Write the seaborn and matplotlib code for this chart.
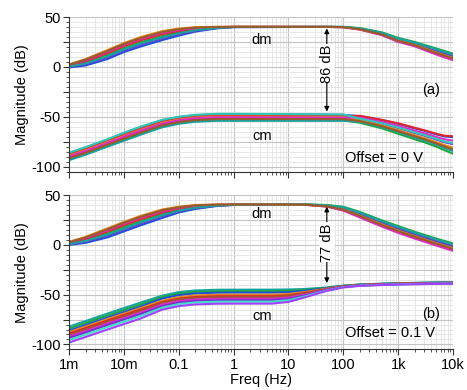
import numpy as np
import pandas as pd
import matplotlib
matplotlib.use("Agg")
import matplotlib.pyplot as plt
import seaborn as sns
from matplotlib.ticker import FixedLocator, NullFormatter, FuncFormatter

# ---------------- data ----------------
# Panel (a): Offset = 0 V
freq_dm_a = [1e-3, 2e-3, 5e-3, 1e-2, 2e-2, 5e-2, 0.1, 0.2, 0.5, 1, 50, 100, 200, 500, 1e3, 2e3, 5e3, 1e4]
dm_a = [
    [-0.5, 1.5, 8.0, 15.0, 20.5, 27.0, 31.5, 35.5, 38.8, 40.0, 40.2, 40.1, 38.2, 33.4, 27.2, 23.0, 15.5, 10.1],
    [0.1, 2.8, 9.8, 16.8, 22.4, 28.8, 32.9, 36.4, 39.1, 40.1, 40.2, 40.1, 38.5, 34.0, 28.0, 23.8, 16.7, 11.4],
    [0.9, 4.4, 12.0, 19.0, 24.8, 31.0, 34.7, 37.5, 39.5, 40.2, 40.3, 40.2, 39.0, 34.8, 29.2, 25.1, 18.5, 13.4],
    [1.5, 5.7, 13.9, 20.9, 26.7, 32.9, 36.1, 38.4, 39.8, 40.2, 40.2, 40.0, 37.7, 32.4, 25.8, 21.4, 13.3, 7.8],
    [1.9, 6.7, 15.2, 22.2, 28.1, 34.2, 37.2, 39.1, 40.0, 40.3, 40.2, 40.0, 37.5, 32.0, 25.2, 20.8, 12.4, 6.8],
    [2.5, 8.0, 17.0, 24.0, 30.0, 36.0, 38.6, 40.0, 40.3, 40.3, 40.2, 40.1, 38.0, 33.0, 26.6, 22.3, 14.5, 9.1],
    [0.4, 3.5, 10.7, 17.7, 23.4, 29.7, 33.6, 36.9, 39.2, 40.1, 40.2, 40.2, 38.8, 34.4, 28.6, 24.5, 17.6, 12.4],
    [2.2, 7.4, 16.1, 23.1, 29.0, 35.1, 37.9, 39.5, 40.2, 40.3, 40.2, 40.0, 37.9, 32.7, 26.2, 21.9, 13.9, 8.5],
]
freq_cm_a = [1e-3, 2e-3, 5e-3, 1e-2, 2e-2, 5e-2, 0.1, 0.2, 0.5, 1, 10, 100, 200, 500, 1e3, 2e3, 3e3, 5e3, 7e3, 1e4]
cm_a = [
    [-86.4, -80.9, -72.9, -66.4, -60.4, -53.4, -50.4, -48.4, -47.4, -47.4, -47.6, -48.0, -49.4, -53.4, -57.0, -61.6, -64.1, -67.7, -69.7, -70.4],
    [-87.9, -82.4, -74.4, -68.0, -62.0, -54.9, -51.8, -49.8, -48.8, -48.8, -49.0, -49.3, -49.0, -53.0, -56.5, -61.0, -63.5, -67.0, -69.0, -69.5],
    [-92.8, -87.3, -79.3, -73.2, -67.2, -59.8, -56.3, -54.3, -53.3, -53.3, -53.3, -53.4, -56.0, -61.5, -67.0, -72.5, -75.5, -80.0, -83.5, -87.0],
    [-90.5, -85.0, -77.0, -70.8, -64.8, -57.5, -54.2, -52.2, -51.2, -51.2, -51.3, -51.5, -52.2, -56.8, -61.2, -66.2, -68.9, -72.9, -75.5, -77.4],
    [-89.0, -83.5, -75.5, -69.2, -63.2, -56.0, -52.8, -50.8, -49.8, -49.8, -50.0, -50.2, -53.6, -58.5, -63.3, -68.5, -71.3, -75.5, -78.4, -80.9],
    [-93.5, -88.0, -80.0, -74.0, -68.0, -60.5, -57.0, -55.0, -54.0, -54.0, -54.0, -54.0, -55.0, -60.2, -65.4, -70.8, -73.7, -78.0, -81.3, -84.4],
    [-89.8, -84.3, -76.3, -70.0, -64.0, -56.8, -53.5, -51.5, -50.5, -50.5, -50.7, -50.9, -50.8, -55.1, -59.1, -63.9, -66.5, -70.3, -72.6, -73.9],
    [-91.6, -86.1, -78.1, -72.0, -66.0, -58.6, -55.3, -53.3, -52.3, -52.3, -52.3, -52.4, -54.3, -59.4, -64.4, -69.6, -72.5, -76.8, -79.9, -82.6],
    [-86.0, -80.5, -72.5, -66.0, -60.0, -53.0, -50.0, -48.0, -47.0, -47.0, -47.3, -47.7, -51.8, -56.4, -60.7, -65.6, -68.3, -72.2, -74.8, -76.5],
]

# Panel (b): Offset = 0.1 V
freq_dm_b = [1e-3, 2e-3, 5e-3, 1e-2, 2e-2, 5e-2, 0.1, 0.2, 0.5, 1, 10, 20, 50, 100, 200, 500, 1e3, 2e3, 5e3, 1e4]
dm_b = [
    [0.0, 2.0, 7.5, 13.5, 19.5, 27.0, 32.5, 36.0, 39.0, 40.0, 40.4, 40.3, 39.2, 36.3, 30.3, 21.5, 15.4, 9.7, 2.7, -2.3],
    [0.6, 3.2, 9.3, 15.4, 21.4, 28.7, 33.7, 36.8, 39.3, 40.1, 40.4, 40.4, 39.5, 37.0, 31.4, 22.7, 16.8, 11.1, 4.1, -0.8],
    [1.4, 4.7, 11.6, 17.8, 23.8, 30.8, 35.1, 37.8, 39.7, 40.2, 40.5, 40.5, 40.0, 38.2, 33.0, 24.6, 18.8, 13.1, 6.2, 1.4],
    [2.0, 5.9, 13.4, 19.7, 25.7, 32.5, 36.3, 38.6, 40.0, 40.3, 40.3, 40.2, 38.6, 34.9, 28.3, 19.3, 13.0, 7.3, 0.3, -4.9],
    [2.4, 6.8, 14.7, 21.1, 27.1, 33.8, 37.1, 39.2, 40.2, 40.4, 40.3, 40.2, 38.3, 34.3, 27.5, 18.4, 12.0, 6.3, -0.8, -6.0],
    [3.0, 8.0, 16.5, 23.0, 29.0, 35.5, 38.3, 40.0, 40.5, 40.5, 40.4, 40.3, 38.9, 35.7, 29.4, 20.6, 14.4, 8.7, 1.7, -3.4],
    [0.9, 3.8, 10.2, 16.3, 22.4, 29.6, 34.2, 37.2, 39.5, 40.2, 40.5, 40.5, 39.7, 37.6, 32.2, 23.7, 17.8, 12.1, 5.2, 0.3],
    [2.7, 7.4, 15.6, 22.1, 28.1, 34.7, 37.7, 39.6, 40.4, 40.5, 40.4, 40.3, 38.7, 35.3, 28.9, 19.9, 13.7, 8.0, 1.0, -4.2],
]
freq_cm_b = [1e-3, 2e-3, 5e-3, 1e-2, 2e-2, 5e-2, 0.1, 0.2, 0.5, 1, 5, 10, 20, 50, 100, 200, 500, 1e3, 3e3, 1e4]
cm_b = [
    [-82.0, -76.5, -69.0, -63.5, -58.0, -51.0, -47.5, -45.8, -45.1, -45.0, -45.0, -44.8, -44.3, -42.8, -41.0, -39.8, -39.0, -38.5, -38.0, -37.5],
    [-84.0, -78.5, -71.0, -65.5, -60.0, -52.5, -49.0, -47.3, -46.6, -46.5, -46.5, -46.2, -45.3, -43.2, -41.1, -39.9, -39.1, -38.6, -38.1, -37.7],
    [-86.0, -80.5, -73.0, -67.5, -62.0, -54.0, -50.5, -48.8, -48.1, -48.0, -48.0, -47.5, -46.2, -43.5, -41.3, -40.1, -39.3, -38.8, -38.3, -37.9],
    [-87.5, -82.0, -74.5, -69.0, -63.5, -56.0, -52.5, -50.8, -50.1, -50.0, -50.0, -49.3, -47.4, -44.0, -41.6, -40.3, -39.5, -39.0, -38.5, -38.1],
    [-89.0, -83.5, -76.0, -70.5, -65.0, -57.5, -54.0, -52.3, -51.6, -51.5, -51.5, -50.7, -48.3, -44.4, -41.8, -40.4, -39.6, -39.1, -38.6, -38.2],
    [-90.5, -85.0, -77.5, -72.0, -66.5, -58.5, -55.0, -53.3, -52.6, -52.5, -52.5, -51.5, -49.0, -44.7, -41.9, -40.5, -39.7, -39.2, -38.7, -38.3],
    [-92.0, -86.5, -79.0, -73.5, -68.0, -60.0, -56.5, -54.8, -54.1, -54.0, -54.0, -52.9, -49.9, -45.0, -42.1, -40.7, -39.9, -39.4, -38.9, -38.5],
    [-93.5, -88.0, -80.5, -75.0, -69.5, -61.5, -58.0, -56.3, -55.6, -55.5, -55.5, -54.2, -50.8, -45.4, -42.3, -40.8, -40.0, -39.5, -39.0, -38.6],
    [-95.5, -90.0, -82.5, -77.0, -71.5, -63.0, -59.5, -57.8, -57.1, -57.0, -57.0, -55.6, -51.7, -45.8, -42.5, -41.0, -40.2, -39.7, -39.2, -38.8],
    [-98.0, -92.5, -85.0, -79.5, -74.0, -65.0, -61.5, -59.8, -59.1, -59.0, -59.0, -57.3, -52.7, -46.2, -42.8, -41.2, -40.4, -39.9, -39.4, -39.0],
]

dm_a_colors = ["#1f4fe0", "#7a2fd0", "#1fa83a", "#e0262b", "#e02ac8", "#e08a1e", "#16a3a3", "#9a5a2a"]
cm_a_colors = ["#1f4fe0", "#e0262b", "#1fa83a", "#7a2fd0", "#e08a1e", "#16a3a3", "#e02ac8", "#9a5a2a", "#2ec9b8"]
dm_b_colors = dm_a_colors
cm_b_colors = ["#16a3a3", "#1fa83a", "#1f4fe0", "#e08a1e", "#e0262b", "#9a5a2a", "#e02ac8", "#7a2fd0", "#3ee0c8", "#a040ff"]

x_tick_vals = [1e-3, 1e-2, 1e-1, 1, 10, 100, 1e3, 1e4]
x_tick_text = ["1m", "10m", "0.1", "1", "10", "100", "1k", "10k"]
y_label_vals = [50, 0, -50, -100]

# ---------------- build long tables ----------------
def band_frame(freqs, traces, name):
    rows = []
    for i, tr in enumerate(traces):
        for f, v in zip(freqs, tr):
            rows.append((f"{name}{i}", f, v))
    return pd.DataFrame(rows, columns=["trace", "freq", "db"])

def palette_for(name, colors):
    return {f"{name}{i}": c for i, c in enumerate(colors)}

sns.set_theme(style="white")
plt.rcParams["font.family"] = ["Liberation Sans", "DejaVu Sans"]

fig = plt.figure(figsize=(4.67, 3.90), dpi=100)
ax_a = fig.add_axes([0.148, 0.560, 0.822, 0.396])
ax_b = fig.add_axes([0.148, 0.104, 0.822, 0.396])

panels = [
    (ax_a, [(freq_dm_a, dm_a, "dma", dm_a_colors), (freq_cm_a, cm_a, "cma", cm_a_colors)]),
    (ax_b, [(freq_dm_b, dm_b, "dmb", dm_b_colors), (freq_cm_b, cm_b, "cmb", cm_b_colors)]),
]

for ax, bands in panels:
    for freqs, traces, name, cols in bands:
        df = band_frame(freqs, traces, name)
        sns.lineplot(data=df, x="freq", y="db", hue="trace", palette=palette_for(name, cols),
                     estimator=None, sort=False, legend=False, lw=1.5, ax=ax)
    ax.set_xscale("log")
    ax.set_xlim(1e-3, 1e4)
    ax.set_ylim(-105, 50)
    ax.xaxis.set_major_locator(FixedLocator(x_tick_vals))
    minors = [m * d for d in [1e-3, 1e-2, 1e-1, 1, 10, 100, 1e3] for m in range(2, 10)]
    ax.xaxis.set_minor_locator(FixedLocator(minors))
    ax.xaxis.set_minor_formatter(NullFormatter())
    ax.yaxis.set_major_locator(FixedLocator([-100, -75, -50, -25, 0, 25, 50]))
    ax.yaxis.set_minor_locator(FixedLocator(list(range(-105, 51, 5))))
    ax.yaxis.set_major_formatter(FuncFormatter(lambda v, p: f"{int(v)}" if int(v) in y_label_vals else ""))
    ax.grid(True, which="major", color="#c4c4c4", lw=0.8)
    ax.grid(True, which="minor", color="#e3e3e3", lw=0.6)
    ax.set_axisbelow(True)
    for s in ["top", "right"]:
        ax.spines[s].set_visible(False)
    for s in ["left", "bottom"]:
        ax.spines[s].set_color("#333333")
        ax.spines[s].set_linewidth(0.8)
    ax.tick_params(which="both", direction="out", color="#333333", left=True, bottom=True,
                   labelsize=10.5, labelcolor="black", pad=2)
    ax.tick_params(which="major", length=4, width=0.8)
    ax.tick_params(which="minor", length=2.5, width=0.6)
    ax.set_ylabel("Magnitude (dB)", fontsize=10.5, color="black", labelpad=2)
    ax.set_xlabel("")

ax_a.set_xticklabels([])
ax_b.set_xticklabels(x_tick_text)
ax_b.set_xlabel("Freq (Hz)", fontsize=10.5, color="black", labelpad=1)

txt = dict(fontsize=10.5, color="black", ha="center", va="center")
arrow = dict(arrowstyle="<|-|>", color="black", lw=0.8, shrinkA=0, shrinkB=0, mutation_scale=7)

# panel (a)
ax_a.text(3.2, 27, "dm", **txt)
ax_a.text(3.3, -69, "cm", **txt)
ax_a.text(4000, -23.5, "(a)", **txt)
ax_a.text(560, -91, "Offset = 0 V", **txt)
ax_a.annotate("", xy=(50, 38.6), xytext=(50, -44.7), arrowprops=arrow)
ax_a.text(50, 3.5, "86 dB", rotation=90, bbox=dict(facecolor="white", edgecolor="none", pad=0.5), **txt)

# panel (b)
ax_b.text(3.2, 31, "dm", **txt)
ax_b.text(3.3, -71, "cm", **txt)
ax_b.text(4000, -69, "(b)", **txt)
ax_b.text(700, -89, "Offset = 0.1 V", **txt)
ax_b.annotate("", xy=(50, 38.2), xytext=(50, -38.3), arrowprops=arrow)
ax_b.text(50, 2.5, "77 dB", rotation=90, bbox=dict(facecolor="white", edgecolor="none", pad=0.5), **txt)

fig.savefig("out.png", dpi=100)
